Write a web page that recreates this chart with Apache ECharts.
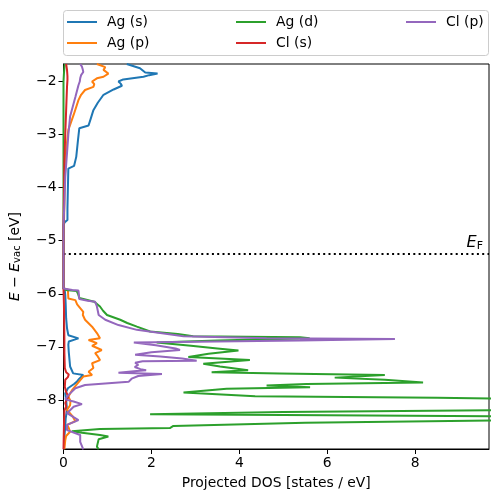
<!DOCTYPE html>
<html><head><meta charset="utf-8">
<script src="https://cdn.jsdelivr.net/npm/echarts@6/dist/echarts.min.js"></script>
<style>html,body{margin:0;padding:0;background:#fff}#c{width:498px;height:502px}</style>
</head><body><div id="c"></div>
<script>
// ---- data: [energy (eV), projected DOS (states/eV)] ----
const seriesNames = ['Ag (s)', 'Ag (p)', 'Ag (d)', 'Cl (s)', 'Cl (p)'];
const seriesColors = ['#1f77b4', '#ff7f0e', '#2ca02c', '#d62728', '#9467bd'];

const agS = [
  [-1.67,1.44],[-1.75,1.74],[-1.83,1.86],[-1.85,2.14],[-1.88,1.95],[-1.91,1.82],[-1.96,1.36],[-2.00,1.25],
  [-2.04,1.30],[-2.08,1.33],[-2.15,1.14],[-2.25,0.91],[-2.40,0.78],[-2.54,0.68],[-2.70,0.62],[-2.83,0.57],
  [-2.88,0.36],[-3.10,0.33],[-3.42,0.29],[-3.59,0.24],[-3.64,0.11],[-4.00,0.10],[-4.40,0.09],[-4.61,0.09],
  [-4.65,0.03],[-4.70,0.00],[-5.90,0.00],
  [-5.95,0.03],[-6.02,0.04],[-6.20,0.05],[-6.46,0.06],[-6.65,0.08],[-6.78,0.11],[-6.84,0.34],[-6.86,0.27],
  [-6.90,0.12],[-6.96,0.11],[-7.10,0.12],[-7.28,0.14],[-7.37,0.15],[-7.50,0.22],[-7.53,0.45],[-7.56,0.42],
  [-7.60,0.36],[-7.66,0.30],[-7.70,0.24],[-7.78,0.10],[-7.88,0.04],[-8.00,0.06],[-8.19,0.08],[-8.35,0.05],
  [-8.50,0.04],[-8.70,0.02],[-8.93,0.01]
];
const agP = [
  [-1.67,0.76],[-1.73,0.95],[-1.78,0.91],[-1.85,1.02],[-1.91,0.91],[-1.94,0.76],[-2.00,0.65],[-2.05,0.70],
  [-2.10,0.68],[-2.16,0.49],[-2.25,0.40],[-2.35,0.34],[-2.63,0.23],[-2.91,0.11],[-3.30,0.06],[-3.80,0.03],
  [-4.30,0.02],[-4.65,0.01],[-4.70,0.00],[-5.90,0.00],
  [-5.92,0.10],[-6.09,0.11],[-6.12,0.27],[-6.20,0.31],[-6.34,0.45],[-6.40,0.44],[-6.49,0.49],[-6.62,0.65],
  [-6.74,0.76],[-6.84,0.83],[-6.87,0.57],[-6.93,0.76],[-6.98,0.65],[-7.06,0.87],[-7.12,0.72],[-7.18,0.78],
  [-7.25,0.83],[-7.31,0.65],[-7.40,0.68],[-7.47,0.57],[-7.53,0.65],[-7.56,0.45],[-7.69,0.32],[-7.81,0.20],
  [-7.94,0.11],[-8.02,0.16],[-8.10,0.15],[-8.19,0.08],[-8.30,0.20],[-8.40,0.27],[-8.47,0.08],[-8.53,0.12],
  [-8.60,0.15],[-8.68,0.06],[-8.76,0.04],[-8.93,0.02]
];
const agD = [
  [-1.67,0.03],[-1.75,0.02],[-1.85,0.01],[-2.00,0.00],[-5.90,0.00],
  [-5.93,0.05],[-5.95,0.30],[-6.00,0.33],[-6.08,0.36],[-6.15,0.70],[-6.24,0.83],[-6.32,0.90],[-6.40,0.99],
  [-6.49,1.29],[-6.55,1.45],[-6.62,1.67],[-6.71,1.97],[-6.76,2.60],[-6.80,2.95],[-6.82,5.38],[-6.84,5.60],
  [-6.88,3.50],[-6.92,2.12],[-6.98,2.90],[-7.03,3.50],[-7.07,3.98],[-7.13,3.30],[-7.19,2.84],[-7.25,4.24],
  [-7.32,3.18],[-7.37,3.56],[-7.44,4.20],[-7.48,3.37],[-7.50,4.92],[-7.53,7.31],[-7.58,6.17],[-7.62,7.31],
  [-7.67,8.18],[-7.70,5.53],[-7.73,4.62],[-7.76,5.61],[-7.79,3.71],[-7.86,2.73],[-7.93,4.36],[-7.96,8.50],
  [-7.98,10.50],[-8.05,12.00],[-8.12,12.00],[-8.19,10.50],[-8.23,5.00],[-8.27,1.97],[-8.29,6.00],[-8.31,10.50],
  [-8.34,12.00],[-8.38,10.50],[-8.43,5.50],[-8.49,2.50],[-8.53,2.42],[-8.55,0.83],[-8.59,0.19],[-8.62,0.42],
  [-8.66,0.83],[-8.69,1.02],[-8.74,0.80],[-8.88,0.76],[-8.93,0.80]
];
const clS = [
  [-1.67,0.06],[-1.78,0.08],[-1.90,0.09],[-1.97,0.09],[-2.10,0.08],[-2.54,0.06],[-3.00,0.04],[-3.50,0.02],
  [-4.20,0.01],[-4.70,0.00],[-5.90,0.00],
  [-6.20,0.01],[-6.83,0.02],[-7.10,0.02],[-7.40,0.03],[-7.48,0.06],[-7.52,0.12],[-7.57,0.10],[-7.62,0.04],
  [-7.75,0.03],[-7.85,0.06],[-7.94,0.11],[-7.98,0.08],[-8.06,0.04],[-8.12,0.06],[-8.20,0.02],[-8.50,0.01],
  [-8.93,0.00]
];
const clP = [
  [-1.67,0.38],[-1.72,0.42],[-1.78,0.44],[-1.82,0.45],[-1.88,0.40],[-1.94,0.38],[-2.00,0.37],[-2.07,0.34],
  [-2.29,0.27],[-2.66,0.15],[-3.00,0.11],[-3.35,0.08],[-3.80,0.04],[-4.30,0.02],[-4.70,0.00],[-5.90,0.00],
  [-5.91,0.02],[-5.93,0.20],[-5.94,0.34],[-6.10,0.36],[-6.13,0.55],[-6.15,0.72],[-6.24,0.76],[-6.40,0.80],
  [-6.49,0.95],[-6.59,1.25],[-6.68,1.67],[-6.74,2.20],[-6.80,2.73],[-6.84,4.62],[-6.85,7.54],[-6.88,5.38],
  [-6.92,1.60],[-6.97,2.10],[-7.03,2.55],[-7.06,2.65],[-7.10,2.00],[-7.15,1.63],[-7.18,2.20],[-7.22,2.70],
  [-7.26,3.03],[-7.27,1.80],[-7.30,1.63],[-7.34,1.70],[-7.38,1.62],[-7.42,1.75],[-7.44,1.88],[-7.46,1.60],
  [-7.49,1.25],[-7.51,2.24],[-7.55,1.70],[-7.60,1.55],[-7.66,1.48],[-7.68,1.10],[-7.72,0.49],[-7.78,0.27],
  [-7.91,0.11],[-7.99,0.04],[-8.03,0.23],[-8.08,0.42],[-8.13,0.23],[-8.25,0.08],[-8.38,0.34],[-8.47,0.08],
  [-8.57,0.08],[-8.66,0.38],[-8.79,0.38],[-8.93,0.45]
];
const seriesData = [agS, agP, agD, clS, clP];

const xTicks = [0, 2, 4, 6, 8];
const yTicks = [-8, -7, -6, -5, -4, -3, -2];
const eFermi = -5.25;
const xRange = [0, 9.68];
const yRange = [-8.925, -1.67];

// ---- layout / style ----
const FONT = 'DejaVu Sans';
const FS = 13.9;
const legendPos = [[67, 14], [67, 35], [236, 14], [236, 35], [406, 14]];

const chart = echarts.init(document.getElementById('c'), null, {renderer: 'canvas'});
const fmt = v => String(v).replace('-', '\u2212');

const series = seriesNames.map((name, i) => ({
  name, type: 'line', showSymbol: false, symbol: 'none', clip: true,
  color: seriesColors[i],
  lineStyle: {width: 2, color: seriesColors[i]},
  data: seriesData[i].map(p => [p[1], p[0]]),
  z: 2 + i,
  animation: false
}));
series[0].markLine = {
  silent: true, symbol: 'none', animation: false,
  lineStyle: {color: '#000', width: 2, type: [2, 3.3]},
  label: {
    show: true, position: 'insideEndTop', distance: [6, 2],
    formatter: '{e|E}{f|F}',
    rich: {
      e: {fontFamily: FONT, fontStyle: 'italic', fontSize: 16, color: '#000', lineHeight: 18},
      f: {fontFamily: FONT, fontSize: 11, color: '#000', padding: [6, 0, 0, 0], lineHeight: 18}
    }
  },
  data: [{yAxis: eFermi}]
};

const legends = seriesNames.map((name, i) => ({
  data: [name], left: legendPos[i][0], top: legendPos[i][1], padding: 0,
  orient: 'horizontal', icon: 'rect', itemWidth: 30, itemHeight: 2,
  selectedMode: false,
  textStyle: {fontFamily: FONT, fontSize: FS, color: '#000', padding: [0, 0, 0, 5], lineHeight: 16}
}));

chart.setOption({
  animation: false,
  backgroundColor: '#fff',
  grid: {left: 63, right: 9, top: 64, bottom: 53, show: true, borderColor: '#000', borderWidth: 1, backgroundColor: 'transparent'},
  legend: legends,
  graphic: [{type: 'rect', shape: {x: 63.5, y: 10.5, width: 425, height: 45, r: 3}, style: {fill: 'rgba(255,255,255,0.8)', stroke: '#cccccc', lineWidth: 1}, z: -1}],
  xAxis: {
    type: 'value', min: xRange[0], max: xRange[1],
    name: 'Projected DOS [states / eV]', nameLocation: 'middle', nameGap: 27,
    nameTextStyle: {fontFamily: FONT, fontSize: FS, color: '#000'},
    axisLine: {show: true, onZero: false, lineStyle: {color: '#000', width: 1}},
    axisTick: {show: true, length: 5, customValues: xTicks, lineStyle: {color: '#000'}},
    axisLabel: {customValues: xTicks, formatter: fmt, fontFamily: FONT, fontSize: FS, color: '#000', margin: 7},
    splitLine: {show: false}
  },
  yAxis: {
    type: 'value', min: yRange[0], max: yRange[1],
    name: '{e|E} \u2212 {e|E}{s|vac} [eV]', nameLocation: 'middle', nameGap: 41, nameRotate: 90,
    nameTextStyle: {
      fontFamily: FONT, fontSize: FS, color: '#000',
      rich: {
        e: {fontFamily: FONT, fontStyle: 'italic', fontSize: FS, color: '#000'},
        s: {fontFamily: FONT, fontSize: 10, color: '#000', padding: [5, 0, 0, 0]}
      }
    },
    axisLine: {show: true, onZero: false, lineStyle: {color: '#000', width: 1}},
    axisTick: {show: true, length: 5, customValues: yTicks, lineStyle: {color: '#000'}},
    axisLabel: {customValues: yTicks, formatter: fmt, fontFamily: FONT, fontSize: FS, color: '#000', margin: 7},
    splitLine: {show: false}
  },
  series
});
</script></body></html>
